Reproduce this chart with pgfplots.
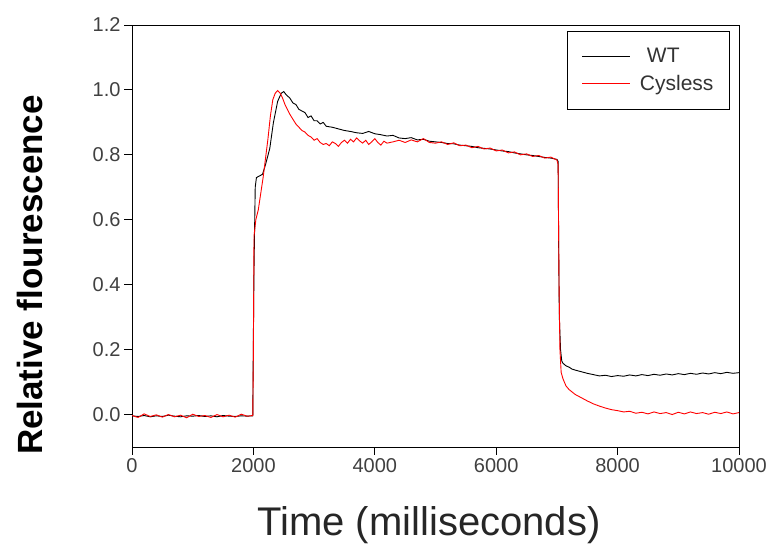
\documentclass[border=0pt]{standalone}
\usepackage{fontspec}
\setmainfont{Liberation Sans}
\usepackage{pgfplots}
\pgfplotsset{compat=1.18}
\begin{document}
\begin{tikzpicture}
\begin{axis}[
  name=ax,
  scale only axis,
  width=607pt, height=422pt,
  xmin=0, xmax=10000, ymin=-0.1, ymax=1.2,
  xtick={0,2000,...,10000},
  ytick={0,0.2,...,1.2},
  yticklabel style={/pgf/number format/.cd, fixed, fixed zerofill, precision=1},
  xticklabel style={/pgf/number format/.cd, 1000 sep={}},
  /pgf/number format/assume math mode=true,
  scaled x ticks=false,
  tick align=outside,
  tick pos=left,
  major tick length=8pt,
  axis line style={line width=0.9pt},
  tick style={line width=0.9pt, black},
  ticklabel style={font=\fontsize{20}{22}\selectfont, text=black!75},
  legend style={at={(0.985,0.986)}, anchor=north east, draw=black, line width=0.9pt,
    font=\fontsize{21}{23}\selectfont, inner xsep=14pt, inner ysep=15pt,
    row sep=7pt, text=black!80},
  legend cell align=left,
  legend image code/.code={\draw[#1, line width=1pt] (0pt,0pt) -- (48pt,0pt);},
  clip=true,
]
\addplot[black, line width=0.9pt] coordinates {
(0,-0.004) (100,-0.006) (200,-0.003) (300,-0.007) (400,-0.004) (500,-0.006) (600,-0.002) (700,-0.005) (800,-0.007) (900,-0.004)
(1000,-0.005) (1100,-0.003) (1200,-0.006) (1300,-0.004) (1400,-0.007) (1500,-0.003) (1600,-0.005) (1700,-0.006) (1800,-0.004) (1900,-0.005)
(1990,-0.004) (2000,0.25) (2010,0.45) (2030,0.70) (2050,0.73) (2150,0.74) (2200,0.77) (2270,0.82) (2330,0.90) (2400,0.965)
(2460,0.99) (2500,0.995) (2540,0.985) (2600,0.975) (2650,0.96) (2700,0.955) (2750,0.94) (2800,0.935) (2850,0.93) (2900,0.915)
(2950,0.92) (3000,0.905) (3050,0.905) (3100,0.895) (3150,0.90) (3200,0.888) (3300,0.885) (3400,0.88) (3500,0.875) (3600,0.872)
(3700,0.868) (3800,0.866) (3900,0.872) (4000,0.865) (4100,0.862) (4200,0.858) (4300,0.86) (4400,0.852) (4500,0.85) (4600,0.853)
(4700,0.846) (4800,0.848) (4900,0.842) (5000,0.84) (5100,0.838) (5200,0.835) (5300,0.834) (5400,0.83) (5500,0.828) (5600,0.826)
(5700,0.822) (5800,0.82) (5900,0.818) (6000,0.815) (6100,0.812) (6200,0.81) (6300,0.806) (6400,0.803) (6500,0.8) (6600,0.798)
(6700,0.795) (6800,0.792) (6900,0.79) (7000,0.786) (7020,0.78) (7030,0.5) (7040,0.3) (7060,0.2) (7080,0.165) (7100,0.158)
(7150,0.150) (7200,0.146) (7250,0.14) (7300,0.137) (7400,0.132) (7500,0.127) (7600,0.123) (7700,0.119) (7800,0.121) (7900,0.117)
(8000,0.12) (8100,0.118) (8200,0.122) (8300,0.119) (8400,0.123) (8500,0.12) (8600,0.124) (8700,0.121) (8800,0.125) (8900,0.122)
(9000,0.126) (9100,0.123) (9200,0.127) (9300,0.124) (9400,0.128) (9500,0.125) (9600,0.129) (9700,0.126) (9800,0.13) (9900,0.127)
(10000,0.129)
};
\addlegendentry{\hspace{14pt}WT}
\addplot[red, line width=0.9pt] coordinates {
(0,-0.003) (100,-0.009) (200,0.002) (300,-0.006) (400,-0.001) (500,-0.008) (600,0.0) (700,-0.007) (800,-0.002) (900,-0.01)
(1000,0.001) (1100,-0.006) (1200,-0.003) (1300,-0.009) (1400,0.0) (1500,-0.007) (1600,-0.002) (1700,-0.008) (1800,0.001) (1900,-0.005)
(1990,-0.003) (2000,0.2) (2010,0.55) (2040,0.60) (2080,0.63) (2120,0.68) (2160,0.73) (2200,0.79) (2240,0.85) (2280,0.92)
(2320,0.97) (2360,0.99) (2400,0.998) (2440,0.99) (2480,0.975) (2520,0.955) (2560,0.94) (2600,0.925) (2650,0.91) (2700,0.895)
(2750,0.885) (2800,0.875) (2850,0.87) (2900,0.86) (2950,0.855) (3000,0.845) (3050,0.85) (3100,0.838) (3150,0.832) (3200,0.835)
(3250,0.828) (3300,0.84) (3350,0.835) (3400,0.826) (3450,0.838) (3500,0.845) (3550,0.836) (3600,0.848) (3650,0.84) (3700,0.852)
(3750,0.843) (3800,0.836) (3850,0.845) (3900,0.832) (3950,0.84) (4000,0.85) (4050,0.838) (4100,0.83) (4150,0.842) (4200,0.836)
(4300,0.84) (4400,0.845) (4500,0.838) (4600,0.846) (4700,0.84) (4800,0.85) (4900,0.838) (5000,0.836) (5100,0.84) (5200,0.832)
(5300,0.837) (5400,0.828) (5500,0.83) (5600,0.822) (5700,0.826) (5800,0.818) (5900,0.821) (6000,0.812) (6100,0.815) (6200,0.806)
(6300,0.809) (6400,0.8) (6500,0.803) (6600,0.795) (6700,0.798) (6800,0.79) (6900,0.793) (7000,0.784) (7020,0.77) (7035,0.4)
(7050,0.2) (7070,0.13) (7100,0.11) (7150,0.088) (7200,0.077) (7300,0.062) (7400,0.052) (7500,0.042) (7600,0.033) (7700,0.026)
(7800,0.02) (7900,0.015) (8000,0.012) (8100,0.008) (8200,0.01) (8300,0.004) (8400,0.007) (8500,0.002) (8600,0.008) (8700,0.003)
(8800,0.006) (8900,0.0) (9000,0.007) (9100,0.002) (9200,0.008) (9300,0.003) (9400,0.006) (9500,0.001) (9600,0.007) (9700,0.003)
(9800,0.008) (9900,0.002) (10000,0.006)
};
\addlegendentry{\hspace{7pt}Cysless\hspace{17pt}}
\coordinate (bl) at (rel axis cs:0,0);
\coordinate (tr) at (rel axis cs:1,1);
\end{axis}
\node[rotate=90, font=\fontsize{35}{37}\selectfont\bfseries] at ([shift={(-102pt,172pt)}]bl) {Relative flourescence};
\node[font=\fontsize{40}{42}\selectfont, text=black!85] at ([shift={(297pt,-78pt)}]bl) {Time (milliseconds)};
\pgfresetboundingbox
\path[use as bounding box] ([shift={(-132pt,-101pt)}]bl) rectangle ([shift={(28pt,25pt)}]tr);
\end{tikzpicture}
\end{document}
